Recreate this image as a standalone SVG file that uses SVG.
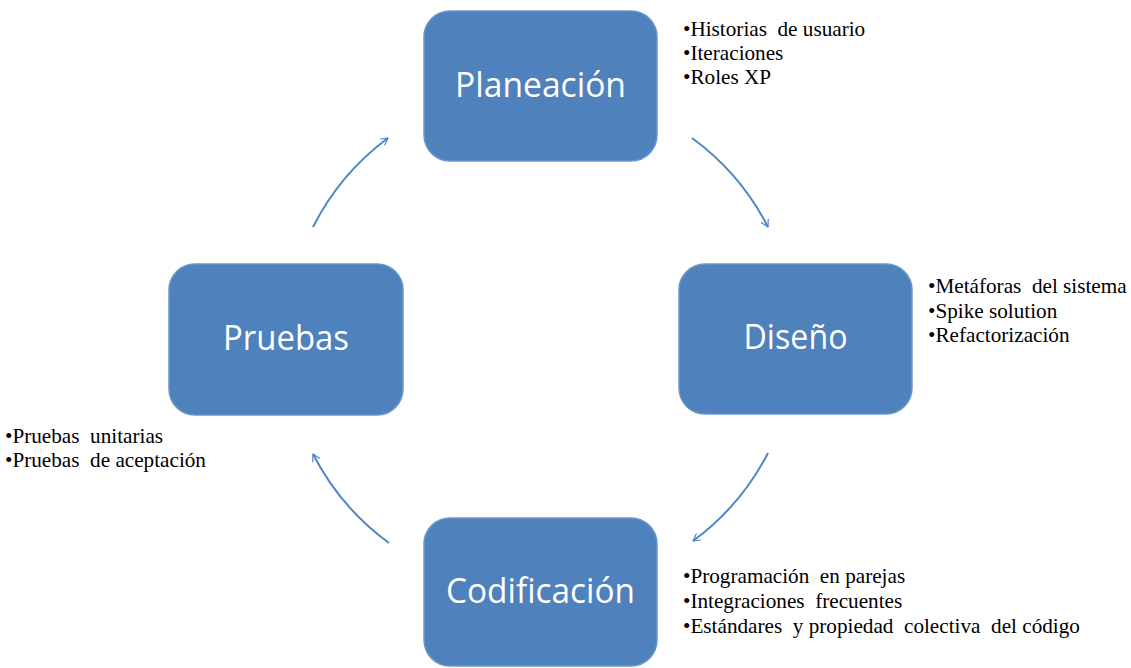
<svg xmlns="http://www.w3.org/2000/svg" width="1131" height="668" viewBox="0 0 1131 668">
  <style>
    .box { fill: #4F81BD; stroke: #6A95C9; stroke-width: 1.5; }
    .label { font-family: "Open Sans", "Noto Sans", sans-serif; font-size: 34px; fill: #FFFFFF; text-anchor: middle; }
    .notes { font-family: "Liberation Serif", "Times New Roman", serif; font-size: 21.2px; fill: #000000; }
    .arc { fill: none; stroke: #4F86CB; stroke-width: 2; marker-end: url(#chev); }
  </style>
  <defs>
    <marker id="chev" viewBox="0 0 12 12" refX="10" refY="6" markerWidth="9" markerHeight="9" markerUnits="userSpaceOnUse" orient="auto">
      <path d="M1,1 L10,6 L1,11" fill="none" stroke="#4F86CB" stroke-width="1.6" stroke-linecap="round" stroke-linejoin="round"/>
    </marker>
  </defs>
  <rect width="1131" height="668" fill="#FFFFFF"/>

  <!-- cycle arrows, arcs around (540.5, 340) -->
  <g id="connectors">
    <path class="arc" d="M313,227 A253,253 0 0,1 388,138"/>
    <path class="arc" d="M692,138 A253,253 0 0,1 768,227"/>
    <path class="arc" d="M768,453 A253,253 0 0,1 693,541"/>
    <path class="arc" d="M389,543 A253,253 0 0,1 313,454"/>
  </g>

  <g id="planeacion">
    <rect class="box" x="424" y="11" width="233" height="150" rx="26" ry="26"/>
    <text class="label" x="540.5" y="97" textLength="171" lengthAdjust="spacingAndGlyphs">Planeación</text>
  </g>
  <g id="diseno">
    <rect class="box" x="679" y="264" width="233" height="150" rx="26" ry="26"/>
    <text class="label" x="795.5" y="349" textLength="104" lengthAdjust="spacingAndGlyphs">Diseño</text>
  </g>
  <g id="codificacion">
    <rect class="box" x="424" y="518" width="233" height="148" rx="26" ry="26"/>
    <text class="label" x="540.5" y="603" textLength="189" lengthAdjust="spacingAndGlyphs">Codificación</text>
  </g>
  <g id="pruebas">
    <rect class="box" x="169" y="264" width="234" height="151" rx="26" ry="26"/>
    <text class="label" x="286" y="350" textLength="126" lengthAdjust="spacingAndGlyphs">Pruebas</text>
  </g>

  <!-- wide word gaps use a no-break space before the normal one -->
  <g id="notas-planeacion" class="notes">
    <text x="683" y="36">•Historias&#160; de usuario</text>
    <text x="683" y="60">•Iteraciones</text>
    <text x="683" y="84">•Roles XP</text>
  </g>
  <g id="notas-diseno" class="notes">
    <text x="928" y="293">•Metáforas&#160; del sistema</text>
    <text x="928" y="318">•Spike solution</text>
    <text x="928" y="342">•Refactorización</text>
  </g>
  <g id="notas-pruebas" class="notes">
    <text x="5" y="443">•Pruebas&#160; unitarias</text>
    <text x="5" y="467">•Pruebas&#160; de aceptación</text>
  </g>
  <g id="notas-codificacion" class="notes">
    <text x="683" y="583">•Programación&#160; en parejas</text>
    <text x="683" y="608">•Integraciones&#160; frecuentes</text>
    <text x="683" y="633">•Estándares&#160; y propiedad&#160; colectiva&#160; del código</text>
  </g>
</svg>
